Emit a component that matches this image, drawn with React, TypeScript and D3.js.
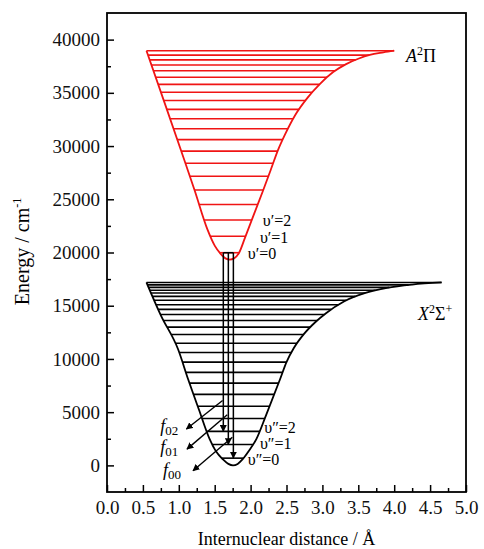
import React, { useEffect, useRef } from "react";
import * as d3 from "d3";

const xTicks = [0, 0.5, 1, 1.5, 2, 2.5, 3, 3.5, 4, 4.5, 5];
const xMinorTicks = [0.25, 0.75, 1.25, 1.75, 2.25, 2.75, 3.25, 3.75, 4.25, 4.75];
const yTicks = [0, 5000, 10000, 15000, 20000, 25000, 30000, 35000, 40000];
const yMinorTicks = [2500, 7500, 12500, 17500, 22500, 27500, 32500, 37500];

// A2Pi potential curve [r (A), E (cm-1)]
const upperCurve: [number, number][] = [
  [0.55, 38960], [0.8, 34100], [1.03, 29600], [1.22, 25850], [1.4, 22150],
  [1.5, 20650], [1.58, 19900], [1.65, 19450], [1.71, 19340], [1.77, 19450],
  [1.84, 19980], [1.92, 21350], [2.05, 23650], [2.17, 25750], [2.28, 27750],
  [2.38, 29600], [2.48, 31100], [2.62, 32900], [2.8, 34600], [2.96, 35800],
  [3.15, 36950], [3.33, 37700], [3.5, 38200], [3.66, 38560], [3.85, 38800],
  [4.0, 38960],
];

// X2Sigma+ potential curve
const lowerCurve: [number, number][] = [
  [0.55, 17185], [0.75, 14100], [0.99, 10910], [1.13, 8090], [1.28, 5250],
  [1.43, 2470], [1.52, 1300], [1.615, 560], [1.69, 140], [1.755, 0],
  [1.82, 140], [1.89, 580], [1.98, 1400], [2.08, 2470], [2.22, 4800],
  [2.41, 8090], [2.5, 9700], [2.6, 11000], [2.75, 12400], [2.9, 13450],
  [3.05, 14300], [3.3, 15400], [3.6, 16200], [3.9, 16680], [4.25, 16990],
  [4.66, 17185],
];

const upperLevels = [
  19980, 21530, 23060, 24510, 25870, 27170, 28380, 29520, 30600, 31620, 32560,
  33450, 34280, 35060, 35790, 36470, 37080, 37620, 38100, 38540, 38960,
];
const lowerLevels = [
  680, 1960, 3200, 4400, 5560, 6670, 7730, 8740, 9700, 10610, 11480, 12300,
  12985, 13605, 14175, 14655, 15090, 15515, 15875, 16190, 16455, 16720, 16955,
  17185,
];

// v'=0 -> v''=2,1,0
const transR = [1.62, 1.69, 1.76];
const transTo = [2, 1, 0];

const fcNames = ["02", "01", "00"];
const fcFrom: [number, number][] = [[1.61, 6100], [1.675, 4750], [1.745, 2650]];
const fcTo: [number, number][] = [[1.106, 3420], [1.114, 1530], [1.198, -500]];
const fcLabelAt: [number, number][] = [[0.74, 3140], [0.74, 1200], [0.78, -950]];

const vUpperNames = ["υ′=0", "υ′=1", "υ′=2"];
const vUpperAt: [number, number][] = [[1.96, 19350], [2.13, 20900], [2.17, 22500]];
const vLowerNames = ["υ″=0", "υ″=1", "υ″=2"];
const vLowerAt: [number, number][] = [[1.96, 80], [2.13, 1580], [2.19, 3050]];

const FONT = "Liberation Serif";

export default function App() {
  const ref = useRef<SVGSVGElement>(null);

  useEffect(() => {
    const svg = d3.select(ref.current);
    svg.selectAll("*").remove();

    const left = 107, right = 466, top = 13, bottom = 492;
    const x = d3.scaleLinear().domain([0, 5]).range([left, right]);
    const y = d3.scaleLinear().domain([-2500, 42500]).range([bottom, top]);

    const defs = svg.append("defs");
    defs
      .append("marker")
      .attr("id", "head")
      .attr("viewBox", "0 0 10 10")
      .attr("refX", 9)
      .attr("refY", 5)
      .attr("markerWidth", 7)
      .attr("markerHeight", 7)
      .attr("markerUnits", "userSpaceOnUse")
      .attr("orient", "auto")
      .append("path")
      .attr("d", "M0,0 L10,5 L0,10 z")
      .attr("fill", "#000");

    const line = d3
      .line<[number, number]>()
      .x((d) => x(d[0]))
      .y((d) => y(d[1]))
      .curve(d3.curveMonotoneX);

    const cross = (pts: DOMPoint[], py: number) => {
      for (let i = 0; i < pts.length - 1; i++) {
        const a = pts[i], b = pts[i + 1];
        if ((a.y - py) * (b.y - py) <= 0 && a.y !== b.y) {
          return a.x + ((py - a.y) / (b.y - a.y)) * (b.x - a.x);
        }
      }
      return pts[pts.length - 1].x;
    };

    function drawWell(points: [number, number][], levels: number[], color: string) {
      const g = svg.append("g");
      const path = g
        .append("path")
        .attr("d", line(points))
        .attr("fill", "none")
        .attr("stroke", color)
        .attr("stroke-width", 1.8);
      const node = path.node() as SVGPathElement;
      const len = node.getTotalLength();
      const samples = d3.range(0, 1201).map((i) => node.getPointAtLength((len * i) / 1200));
      const iMin = d3.maxIndex(samples, (p) => p.y);
      const leftPart = samples.slice(0, iMin + 1).reverse();
      const rightPart = samples.slice(iMin);
      levels.forEach((E) => {
        const py = y(E);
        g.append("line")
          .attr("x1", cross(leftPart, py))
          .attr("x2", cross(rightPart, py))
          .attr("y1", py)
          .attr("y2", py)
          .attr("stroke", color)
          .attr("stroke-width", 1.6);
      });
    }

    drawWell(upperCurve, upperLevels, "#f01414");
    drawWell(lowerCurve, lowerLevels, "#000");

    // vertical transitions
    const tg = svg.append("g");
    transR.forEach((r, i) => {
      tg.append("line")
        .attr("x1", x(r))
        .attr("x2", x(r))
        .attr("y1", y(upperLevels[0]))
        .attr("y2", y(lowerLevels[transTo[i]]))
        .attr("stroke", "#000")
        .attr("stroke-width", 1.5)
        .attr("marker-end", "url(#head)");
    });
    tg.append("line")
      .attr("x1", x(transR[0]))
      .attr("x2", x(transR[2]))
      .attr("y1", y(upperLevels[0]))
      .attr("y2", y(upperLevels[0]))
      .attr("stroke", "#000")
      .attr("stroke-width", 1.5);

    // Franck-Condon arrows
    fcNames.forEach((n, i) => {
      tg.append("line")
        .attr("x1", x(fcFrom[i][0]))
        .attr("y1", y(fcFrom[i][1]))
        .attr("x2", x(fcTo[i][0]))
        .attr("y2", y(fcTo[i][1]))
        .attr("stroke", "#000")
        .attr("stroke-width", 1.4)
        .attr("marker-end", "url(#head)");
      const t = tg
        .append("text")
        .attr("x", x(fcLabelAt[i][0]))
        .attr("y", y(fcLabelAt[i][1]))
        .style("font-family", FONT)
        .style("font-size", "18px");
      t.append("tspan").style("font-style", "italic").text("f");
      t.append("tspan").style("font-size", "13px").attr("dy", 3).text(n);
    });

    // vibrational labels
    const lab = (names: string[], at: [number, number][]) =>
      names.forEach((n, i) => {
        svg
          .append("text")
          .attr("x", x(at[i][0]))
          .attr("y", y(at[i][1]))
          .style("font-family", FONT)
          .style("font-size", "16px")
          .text(n);
      });
    lab(vUpperNames, vUpperAt);
    lab(vLowerNames, vLowerAt);

    // state labels
    const a = svg
      .append("text")
      .attr("x", 406)
      .attr("y", 62)
      .style("font-family", FONT)
      .style("font-size", "18px");
    a.append("tspan").style("font-style", "italic").text("A");
    a.append("tspan").style("font-size", "12px").attr("dy", -7).text("2");
    a.append("tspan").attr("dy", 7).text("Π");

    const xs = svg
      .append("text")
      .attr("x", 418)
      .attr("y", 320)
      .style("font-family", FONT)
      .style("font-size", "18px");
    xs.append("tspan").style("font-style", "italic").text("X");
    xs.append("tspan").style("font-size", "12px").attr("dy", -7).text("2");
    xs.append("tspan").attr("dy", 7).text("Σ");
    xs.append("tspan").style("font-size", "12px").attr("dy", -7).text("+");

    // axes
    const ax = svg.append("g").attr("transform", `translate(0,${bottom})`);
    ax.call(
      d3.axisBottom(x).tickValues(xTicks).tickSize(-7).tickPadding(9).tickFormat(d3.format(".1f"))
    );
    ax.append("g").call(d3.axisBottom(x).tickValues(xMinorTicks).tickSize(-4).tickFormat(() => ""));

    const ay = svg.append("g").attr("transform", `translate(${left},0)`);
    ay.call(d3.axisLeft(y).tickValues(yTicks).tickSize(-7).tickPadding(7).tickFormat(d3.format("d")));
    ay.append("g").call(d3.axisLeft(y).tickValues(yMinorTicks).tickSize(-4).tickFormat(() => ""));

    svg.selectAll(".domain").remove();
    svg
      .selectAll(".tick text")
      .style("font-family", FONT)
      .style("font-size", "19px")
      .attr("fill", "#111");
    svg.selectAll(".tick line").attr("stroke", "#000").attr("stroke-width", 1.5);

    svg
      .append("rect")
      .attr("x", left)
      .attr("y", top)
      .attr("width", right - left)
      .attr("height", bottom - top)
      .attr("fill", "none")
      .attr("stroke", "#000")
      .attr("stroke-width", 1.8);

    svg
      .append("text")
      .attr("x", (left + right) / 2)
      .attr("y", 545)
      .attr("text-anchor", "middle")
      .style("font-family", FONT)
      .style("font-size", "18px")
      .text("Internuclear distance / Å");

    const yl = svg
      .append("text")
      .attr("transform", `translate(29,${(top + bottom) / 2 - 1}) rotate(-90)`)
      .attr("text-anchor", "middle")
      .style("font-family", FONT)
      .style("font-size", "20px");
    yl.append("tspan").text("Energy / cm");
    yl.append("tspan").style("font-size", "12px").attr("dy", -8).text("-1");
  }, []);

  return (
    <div style={{ position: "absolute", left: 0, top: 0 }}>
      <svg ref={ref} width={484} height={549} style={{ display: "block", background: "#fff" }} />
    </div>
  );
}
